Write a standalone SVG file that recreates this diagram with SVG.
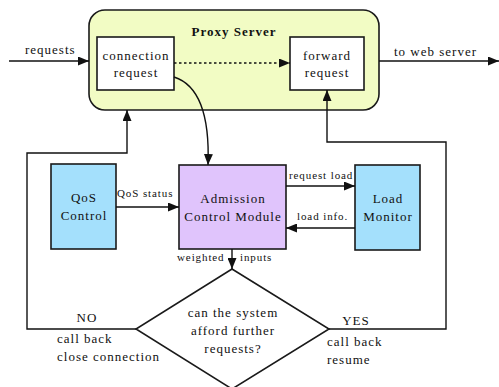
<svg xmlns="http://www.w3.org/2000/svg" width="499" height="387" viewBox="0 0 499 387">
  <style>
    text { font-family: "Liberation Serif", "Times New Roman", serif; fill: #111; }
    .t { font-size: 13px; letter-spacing: 1px; }
    .s { font-size: 11px; letter-spacing: 0.9px; }
    .b { font-size: 13px; font-weight: bold; letter-spacing: 1px; }
    .m { text-anchor: middle; }
    .box { stroke: #1a1a1a; stroke-width: 1.6; }
    .ln { fill: none; stroke: #111; stroke-width: 1.4; }
  </style>
  <defs>
    <marker id="ah" markerUnits="userSpaceOnUse" markerWidth="11" markerHeight="9" refX="11" refY="4.5" orient="auto">
      <path d="M0,0 L11,4.5 L0,9 z" fill="#111"/>
    </marker>
  </defs>

  <g id="proxy-server">
    <rect class="box" x="89" y="10" width="290" height="100" rx="16" ry="16" fill="#f2fcc4"/>
    <text class="b m" x="234" y="36">Proxy Server</text>
  </g>
  <g id="connection-request">
    <rect class="box" x="97" y="37" width="77" height="53" fill="#ffffff"/>
    <text class="t m" x="136" y="60">connection</text>
    <text class="t m" x="136" y="77">request</text>
  </g>
  <g id="forward-request">
    <rect class="box" x="290" y="37" width="74" height="53" fill="#ffffff"/>
    <text class="t m" x="327" y="60">forward</text>
    <text class="t m" x="327" y="77">request</text>
  </g>
  <g id="qos-control">
    <rect class="box" x="51" y="164" width="65" height="85" fill="#a4e0fc"/>
    <text class="t m" x="84" y="202">QoS</text>
    <text class="t m" x="84" y="220">Control</text>
  </g>
  <g id="admission-control">
    <rect class="box" x="179" y="165" width="107" height="84" fill="#e0c4fc"/>
    <text class="t m" x="233" y="203">Admission</text>
    <text class="t m" x="233" y="221">Control Module</text>
  </g>
  <g id="load-monitor">
    <rect class="box" x="355" y="165" width="65" height="85" fill="#a4e0fc"/>
    <text class="t m" x="388" y="203">Load</text>
    <text class="t m" x="388" y="221">Monitor</text>
  </g>
  <g id="decision">
    <polygon class="box" points="232,269 329,329 232,389 136,329" fill="#ffffff"/>
    <text class="t m" x="233" y="317">can the system</text>
    <text class="t m" x="233" y="335">afford further</text>
    <text class="t m" x="233" y="353">requests?</text>
  </g>

  <g id="connectors">
    <line class="ln" x1="9" y1="61" x2="89" y2="61" marker-end="url(#ah)"/>
    <line class="ln" x1="379" y1="61" x2="499" y2="61" marker-end="url(#ah)"/>
    <line class="ln" x1="174" y1="63" x2="290" y2="63" stroke-dasharray="2.5 2.5" marker-end="url(#ah)"/>
    <path class="ln" d="M174,77 C196,84 210,110 208,165" marker-end="url(#ah)"/>
    <line class="ln" x1="116" y1="207" x2="179" y2="207" marker-end="url(#ah)"/>
    <line class="ln" x1="286" y1="186" x2="355" y2="186" marker-end="url(#ah)"/>
    <line class="ln" x1="355" y1="228" x2="286" y2="228" marker-end="url(#ah)"/>
    <line class="ln" x1="232" y1="249" x2="232" y2="269" marker-end="url(#ah)"/>
    <polyline class="ln" points="136,329 27,329 27,153 127,153 127,110" marker-end="url(#ah)"/>
    <polyline class="ln" points="329,329 446,329 446,142 327,142 327,90" marker-end="url(#ah)"/>

    <text class="t" x="25" y="54">requests</text>
    <text class="t" x="394" y="56">to web server</text>
    <text class="s" x="117" y="197">QoS status</text>
    <text class="s" x="289" y="179">request load</text>
    <text class="s" x="297" y="220">load info.</text>
    <text class="s" x="177" y="261">weighted</text>
    <text class="s" x="240" y="261">inputs</text>
    <text class="t m" x="87" y="322">NO</text>
    <text class="t" x="57" y="343">call back</text>
    <text class="t" x="57" y="361">close connection</text>
    <text class="t m" x="356" y="325">YES</text>
    <text class="t" x="327" y="346">call back</text>
    <text class="t" x="327" y="364">resume</text>
  </g>
</svg>
